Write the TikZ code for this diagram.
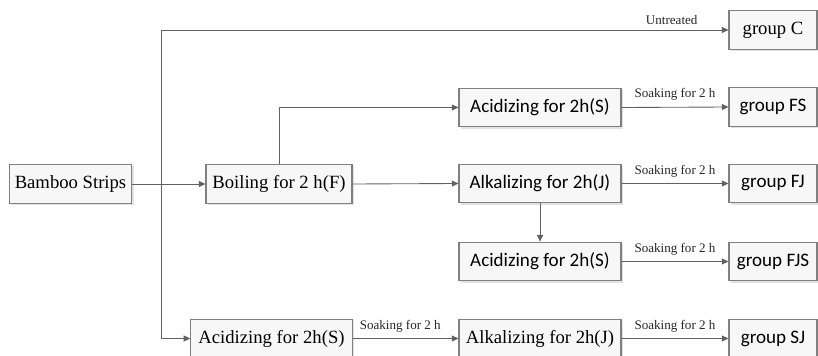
\documentclass[tikz,border=0pt]{standalone}
\usepackage{fontspec}
\setmainfont{Liberation Serif}
\newfontfamily\calib{Carlito}
\usetikzlibrary{arrows.meta,shadows,positioning}
\begin{document}
\begin{tikzpicture}[x=0.75pt,y=-0.75pt,
  box/.style={draw=black!50,fill=black!3,line width=0.8pt,minimum height=29pt,inner sep=0pt,
     drop shadow={shadow xshift=1.3pt,shadow yshift=-1.3pt,fill=black!25,opacity=0.45}},
  serifbox/.style={box,font=\fontsize{14}{16}\selectfont},
  sansbox/.style={box,font=\calib\fontsize{14.3}{16}\selectfont},
  arr/.style={draw=black!62,line width=0.65pt,-{Triangle[length=5pt,width=4.5pt]}},
  lbl/.style={font=\fontsize{9.8}{11}\selectfont,above,inner sep=4.5pt,text=black!85}]
\useasboundingbox (0,0) rectangle (818,356);
\clip (0,0) rectangle (818,356);
% nodes
\node[serifbox,minimum width=92pt] (bamboo) at (70.5,184) {Bamboo Strips};
\node[serifbox,minimum width=109.5pt] (boil) at (279,184) {Boiling for 2 h(F)};
\node[sansbox,minimum width=121.5pt] (acidFS) at (540,107.5) {Acidizing for 2h(S)};
\node[sansbox,minimum width=121.5pt] (alkFJ) at (540,183.5) {Alkalizing for 2h(J)};
\node[sansbox,minimum width=121.5pt] (acidFJS) at (540,261.5) {Acidizing for 2h(S)};
\node[serifbox,minimum width=121pt] (acidB) at (271.5,338.5) {Acidizing for 2h(S)};
\node[serifbox,minimum width=121.5pt] (alkB) at (540,338.5) {Alkalizing for 2h(J)};
\node[serifbox,minimum width=66pt] (gC) at (773,30) {group C};
\node[sansbox,minimum width=66pt] (gFS) at (773,107) {group FS};
\node[sansbox,minimum width=66pt] (gFJ) at (773,183.5) {group FJ};
\node[sansbox,minimum width=66pt] (gFJS) at (773,261.5) {group FJS};
\node[sansbox,minimum width=66pt] (gSJ) at (773,338.5) {group SJ};
\coordinate (j) at (161,184);
% connectors
\draw[arr] (bamboo.east) -- (boil.west);
\draw[arr] (j) |- node[lbl,pos=0.95,inner sep=3.5pt]{Untreated} (gC.west);
\draw[arr] (j) |- (acidB.west);
\draw[arr] (boil.north) |- (acidFS.west);
\draw[arr] (boil.east) -- (alkFJ.west);
\draw[arr] (alkFJ.south) -- (acidFJS.north);
\draw[arr] (acidFS.east) -- node[lbl]{Soaking for 2 h} (gFS.west);
\draw[arr] (alkFJ.east) -- node[lbl]{Soaking for 2 h} (gFJ.west);
\draw[arr] (acidFJS.east) -- node[lbl]{Soaking for 2 h} (gFJS.west);
\draw[arr] (acidB.east) -- node[lbl,pos=0.45]{Soaking for 2 h} (alkB.west);
\draw[arr] (alkB.east) -- node[lbl]{Soaking for 2 h} (gSJ.west);
\end{tikzpicture}
\end{document}
